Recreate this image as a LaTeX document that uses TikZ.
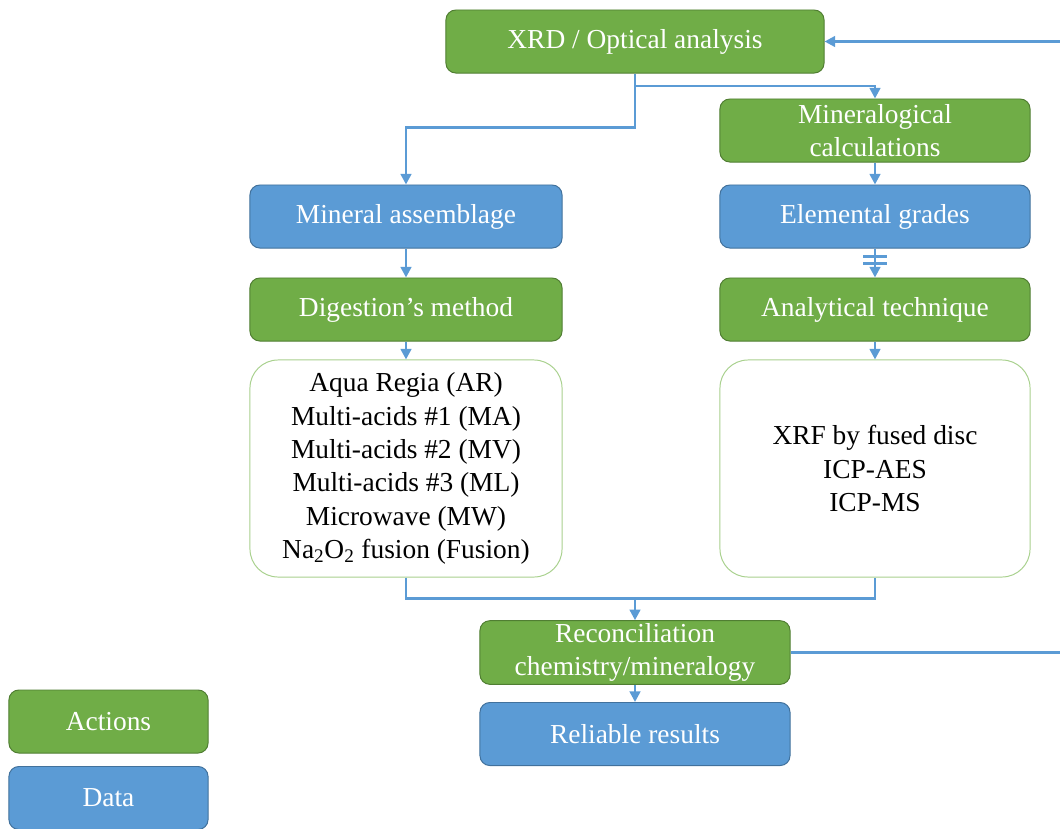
\documentclass[tikz,border=0pt]{standalone}
\usepackage{fontspec}
\setmainfont{Liberation Serif}
\usetikzlibrary{arrows.meta, positioning, calc}
\definecolor{actgreen}{HTML}{70AD47}
\definecolor{actborder}{HTML}{507E32}
\definecolor{datablue}{HTML}{5B9BD5}
\definecolor{databorder}{HTML}{41719C}
\definecolor{listborder}{HTML}{A9D18E}
\definecolor{linkblue}{HTML}{5B9BD5}

\begin{document}
\begin{tikzpicture}[
  x=0.025cm, y=-0.025cm,
  box/.style={
    rectangle, rounded corners=7pt, inner sep=2pt,
    minimum width=7.8cm, minimum height=1.575cm,
    align=center, text=white, line width=0.7pt,
    font=\fontsize{19.5}{23.5}\selectfont
  },
  action/.style={box, fill=actgreen, draw=actborder},
  data/.style={box, fill=datablue, draw=databorder},
  listbox/.style={
    rectangle, rounded corners=20pt, draw=listborder, fill=white,
    line width=0.7pt, minimum width=7.8cm, minimum height=5.425cm,
    align=center, font=\fontsize{19.5}{23.7}\selectfont
  },
  link/.style={line width=1.8pt, color=linkblue},
  arrow/.style={link, -{Triangle[length=7.5pt, width=7.5pt]}}
]
\useasboundingbox (0,0) rectangle (1060,829);

% Top of the flow
\node[action, minimum width=9.45cm] (xrd) at (635,41.5) {XRD / Optical analysis};
\node[action, minimum width=7.75cm] (minecalc) at (875,130.5)
      {Mineralogical\\calculations};

% Left branch
\node[data]   (assemb) at (406,216.5) {Mineral assemblage};
\node[action] (digest) at (406,309.5) {Digestion’s method};
\node[listbox] (methods) at (406,468.5)
      {Aqua Regia (AR)\\Multi-acids \#1 (MA)\\Multi-acids \#2 (MV)\\
       Multi-acids \#3 (ML)\\Microwave (MW)\\
       Na\textsubscript{2}O\textsubscript{2} fusion (Fusion)};

% Right branch
\node[data, minimum width=7.75cm]   (grades)    at (875,216.5) {Elemental grades};
\node[action, minimum width=7.75cm] (technique) at (875,309.5) {Analytical technique};
\node[listbox, minimum width=7.75cm] (techs) at (875,468.5)
      {XRF by fused disc\\ICP-AES\\ICP-MS};

% Bottom of the flow
\node[action, minimum width=7.75cm] (recon)   at (635,652.5)
      {Reconciliation\\chemistry/mineralogy};
\node[data, minimum width=7.75cm]   (results) at (635,734) {Reliable results};

% Legend
\node[action, minimum width=4.975cm] (actions) at (108.5,721.5) {Actions};
\node[data, minimum width=4.975cm]   (datakey) at (108.5,798) {Data};

% Connectors
\coordinate (xsplit) at (635,86);
\coordinate (merge)  at (635,598);
\coordinate (back)   at (1062,0);

\draw[arrow] (xrd.south) -- ++(0,54) -| (assemb.north);
\draw[arrow] (xsplit) -| (minecalc.north);
\draw[arrow] (minecalc) -- (grades);
\draw[arrow] (assemb) -- (digest);
\draw[arrow] (grades) -- (technique);
\draw[link] ($(grades.south)+(-12,8)$) -- ++(24,0);
\draw[link] ($(grades.south)+(-12,15)$) -- ++(24,0);
\draw[arrow] (digest) -- (methods);
\draw[arrow] (technique) -- (techs);
\draw[link] (methods.south) -- ++(0,21) -| (techs.south);
\draw[arrow] (merge) -- (recon.north);
\draw[arrow] (recon) -- (results);
\draw[arrow] (recon.east) -- (recon.east -| back) |- (xrd.east);

\end{tikzpicture}
\end{document}
